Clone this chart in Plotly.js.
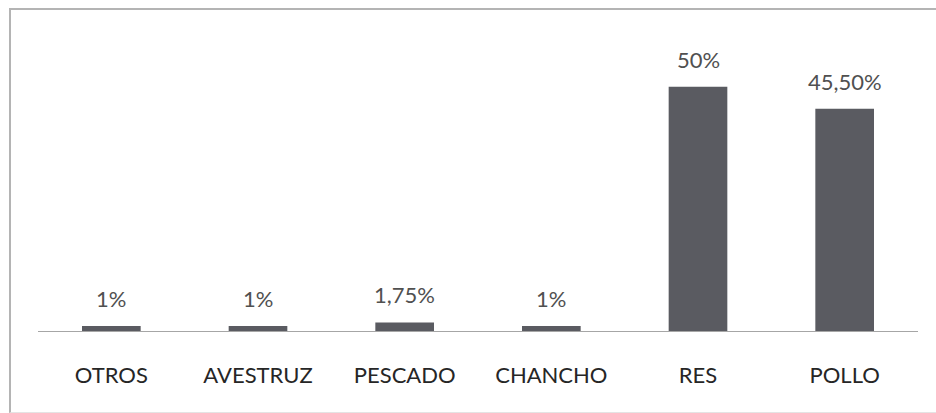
<!DOCTYPE html>
<html>
<head>
<meta charset="utf-8">
<script src="https://cdn.plot.ly/plotly-3.0.1.min.js"></script>
<style>
  html, body { margin: 0; padding: 0; background: #fff; }
  #chart { width: 936px; height: 413px; }
  #frame { position: absolute; left: 9px; top: 8px; width: 927px; height: 402px;
           border-left: 2px solid #b4b4b4; border-top: 2px solid #b4b4b4; border-bottom: 1px solid #e4e4e4;
           pointer-events: none; }
</style>
</head>
<body>
<div id="chart"></div>
<div id="frame"></div>
<script>
const categories = ["OTROS", "AVESTRUZ", "PESCADO", "CHANCHO", "RES", "POLLO"];
const values = [1, 1, 1.75, 1, 50, 45.5];
const valueLabels = ["1%", "1%", "1,75%", "1%", "50%", "45,50%"];

const FONT = "Lato, 'Open Sans', 'Liberation Sans', sans-serif";

const trace = {
  type: "bar",
  x: categories,
  y: values,
  marker: { color: "#5a5b61", line: { width: 0 } },
  hoverinfo: "none"
};

const annotations = categories.map((c, i) => ({
  x: c, y: values[i], xref: "x", yref: "y",
  text: valueLabels[i], showarrow: false,
  yanchor: "bottom", yshift: 12,
  font: { family: FONT, size: 22, color: "#505050" }
}));

const layout = {
  width: 936, height: 413,
  margin: { l: 38, r: 18, t: 38, b: 82 },
  paper_bgcolor: "#ffffff",
  plot_bgcolor: "#ffffff",
  bargap: 0.6,
  showlegend: false,
  xaxis: {
    type: "category",
    showline: true, linecolor: "#a6a6a6", linewidth: 1,
    showgrid: false, zeroline: false,
    ticks: "",
    ticklabelstandoff: 25,
    tickfont: { family: FONT, size: 22, color: "#262626" }
  },
  yaxis: {
    range: [0, 60],
    visible: false,
    showgrid: false, zeroline: false
  },
  annotations: annotations
};

Plotly.newPlot("chart", [trace], layout, { displayModeBar: false, staticPlot: true });
</script>
</body>
</html>
